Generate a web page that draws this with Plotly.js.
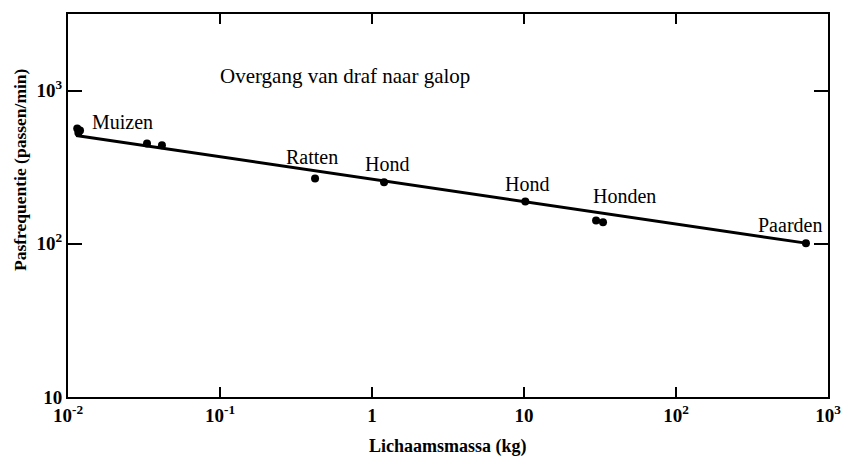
<!DOCTYPE html>
<html>
<head>
<meta charset="utf-8">
<script src="https://cdn.plot.ly/plotly-3.0.1.min.js"></script>
<style>html,body{margin:0;padding:0;background:#fff;}#chart{width:852px;height:458px;}</style>
</head>
<body>
<div id="chart"></div>
<script>
// Body mass (kg) and stride frequency (strides/min) at trot-gallop transition
const massKg = [0.0115, 0.0120, 0.0117, 0.0331, 0.0415, 0.422, 1.20, 10.2, 29.8, 33.1, 716];
const strideFreq = [565, 548, 530, 452, 439, 267, 252, 189, 142, 138, 101];

// Fitted regression line end points
const fitX = [0.0113, 716];
const fitY = [509, 101];

// Group labels
const labelText = ['Muizen', 'Ratten', 'Hond', 'Hond', 'Honden', 'Paarden'];
const labelX = [0.023, 0.403, 1.26, 10.5, 46, 562];
const labelY = [628, 366, 330, 244, 204, 132];

const xTickVals = [0.01, 0.1, 1, 10, 100, 1000];
const xTickText = ['10<sup>-2</sup>', '10<sup>-1</sup>', '1', '10', '10<sup>2</sup>', '10<sup>3</sup>'];
const yTickVals = [10, 100, 1000];
const yTickText = ['10', '10<sup>2</sup>', '10<sup>3</sup>'];

const serif = 'Liberation Serif, Times New Roman, serif';

const traces = [
  {x: fitX, y: fitY, mode: 'lines', line: {color: '#000', width: 3}, hoverinfo: 'skip'},
  {x: massKg, y: strideFreq, mode: 'markers', marker: {color: '#000', size: 8}}
];

const W = 852, H = 458, ml = 68, mr = 24, mt = 14, mb = 61;
const pw = W - ml - mr, ph = H - mt - mb;

const annotations = labelText.map((t, i) => ({
  x: Math.log10(labelX[i]), y: Math.log10(labelY[i]), xref: 'x', yref: 'y',
  xanchor: 'center', yanchor: 'middle',
  text: t, showarrow: false, font: {family: serif, size: 20, color: '#000'}
}));
annotations.push({
  x: Math.log10(0.66), y: Math.log10(1253), xref: 'x', yref: 'y',
  xanchor: 'center', yanchor: 'middle',
  text: 'Overgang van draf naar galop', showarrow: false,
  font: {family: serif, size: 21, color: '#000'}
});
annotations.push({
  x: (20 - ml) / pw, y: (H - mb - 170) / ph, xref: 'paper', yref: 'paper',
  xanchor: 'center', yanchor: 'middle',
  text: '<b>Pasfrequentie (passen/min)</b>',
  showarrow: false, textangle: -90, font: {family: serif, size: 17.5, color: '#000'}
});
annotations.push({
  x: 0.5, y: (H - mb - 446) / ph, xref: 'paper', yref: 'paper',
  xanchor: 'center', yanchor: 'middle',
  text: '<b>Lichaamsmassa (kg)</b>', showarrow: false,
  font: {family: serif, size: 18, color: '#000'}
});

const layout = {
  width: W, height: H,
  margin: {l: ml, r: mr, t: mt, b: mb},
  paper_bgcolor: '#fff', plot_bgcolor: '#fff',
  showlegend: false,
  font: {family: serif, color: '#000'},
  xaxis: {
    type: 'log', range: [-2, 3], tickmode: 'array', tickvals: xTickVals, ticktext: xTickText,
    ticks: 'inside', ticklen: 10, tickwidth: 2, tickcolor: '#000',
    showline: true, linecolor: '#000', linewidth: 2, mirror: 'allticks',
    showgrid: false, zeroline: false,
    tickfont: {family: serif, size: 19, color: '#000', weight: 'bold'}
  },
  yaxis: {
    type: 'log', range: [1, 3.5], tickmode: 'array', tickvals: yTickVals, ticktext: yTickText,
    ticks: 'inside', ticklen: 14, tickwidth: 2, tickcolor: '#000',
    showline: true, linecolor: '#000', linewidth: 2, mirror: 'allticks',
    showgrid: false, zeroline: false,
    tickfont: {family: serif, size: 19, color: '#000', weight: 'bold'}
  },
  annotations: annotations
};

Plotly.newPlot('chart', traces, layout, {displayModeBar: false, staticPlot: true});
</script>
</body>
</html>
